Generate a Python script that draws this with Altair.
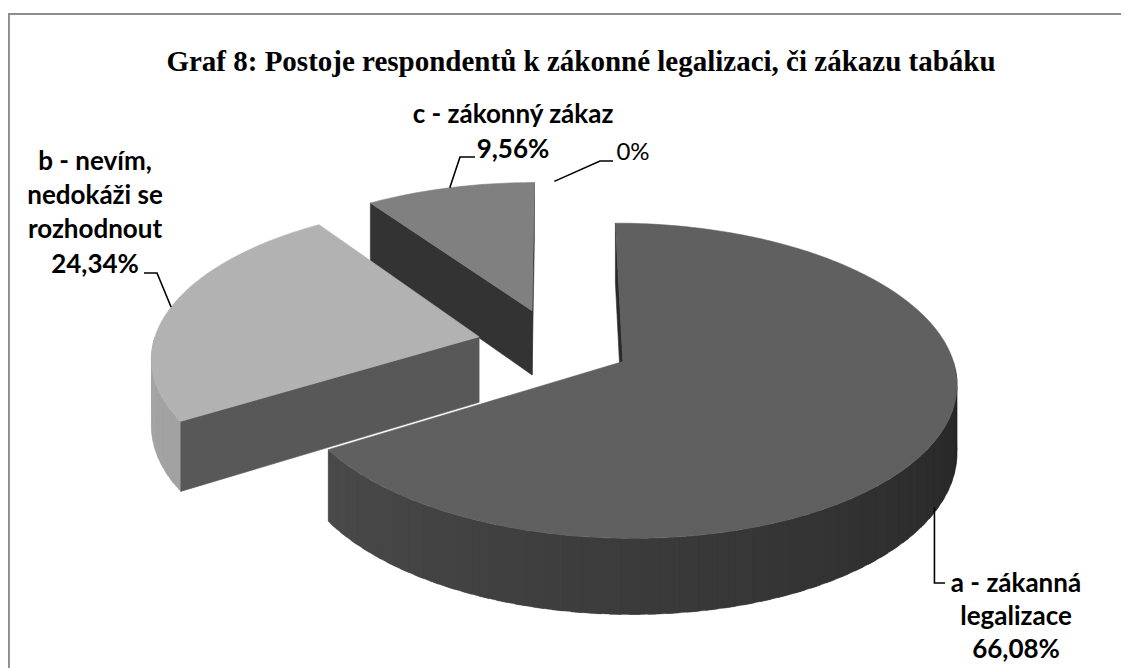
import math
import altair as alt
import pandas as pd

# ---------------- data ----------------
categories = ["a", "b", "c", "d"]
values = [66.08, 24.34, 9.56, 0.0]
name_lines = [
    ["a - zákanná", "legalizace"],
    ["b - nevím,", "nedokáži se", "rozhodnout"],
    ["c - zákonný zákaz"],
    [],
]
value_labels = ["66,08%", "24,34%", "9,56%", "0%"]
title_text = "Graf 8: Postoje respondentů k zákonné legalizaci, či zákazu tabáku"

# ---------------- style / layout ----------------
W, H = 1113, 660                 # drawing area (page px 8..1121, 8..668)
CX, CY = 554.3, 344.0            # projected pie centre (page px)
RX, RY = 326.0, 151.0            # radii of the projected ellipse
PERSP = 0.12                     # perspective strength
EXPLODE = 0.237                  # explosion distance (fraction of radius)
DEPTH = 66.0                     # wall height (px)

top_colors = ["#606060", "#b2b2b2", "#808080", "#808080"]
wall_colors = [("#242424", "#525252"), ("#8c8c8c", "#a6a6a6"),
               ("#333333", "#333333"), ("#333333", "#333333")]
cut_colors = ["#2a2a2a", "#585858", "#333333", "#333333"]

label_x = [1016, 95, 513, 633]
label_y = [[584, 617, 650], [162, 196, 230, 265], [115, 150], [153]]
label_bold = [True, True, True, False]
# leader knee points (label side); the slice end is computed from the data
leader_knees = [
    [("anchor_x", 583), (945, 583)],
    [(144, 273), (157, 273)],
    [(475, 157), (460, 157)],
    [(613, 161), (600, 161)],
]
# cropped chart border (left and top edges only), page px
frame_pts = [(8.9, 8 + H), (8.9, 14.0), (8 + W, 14.0)]

# ---------------- geometry from the data ----------------
total = sum(values)
starts, ends = [], []
acc = 0.0
for v in values:
    starts.append(360.0 * acc / total)
    acc += v
    ends.append(360.0 * acc / total)


def pt(i, theta, r=1.0, down=0.0):
    mid = math.radians((starts[i] + ends[i]) / 2.0)
    t = math.radians(theta)
    X = EXPLODE * math.sin(mid) + r * math.sin(t)
    Z = -EXPLODE * math.cos(mid) - r * math.cos(t)
    k = 1.0 / (1.0 - PERSP * Z)
    return (CX + RX * X * k, CY + RY * Z * k + DEPTH * k * down)


def lerp_hex(c0, c1, f):
    a = [int(c0[j:j + 2], 16) for j in (1, 3, 5)]
    b = [int(c1[j:j + 2], 16) for j in (1, 3, 5)]
    return "#" + "".join("%02x" % int(round(a[m] + (b[m] - a[m]) * f)) for m in range(3))


def arc(i, a0, a1, down=0.0, step=1.0):
    n = max(1, math.ceil(abs(a1 - a0) / step))
    return [pt(i, a0 + (a1 - a0) * j / n, 1.0, down) for j in range(n + 1)]


side_rows = {i: [] for i in range(len(values))}
strip_rows = {i: [] for i in range(len(values))}
top_rows = {i: [] for i in range(len(values))}


def add_poly(rows, name, pts, col):
    for j, (x, y) in enumerate(pts):
        rows.append({"poly": name, "idx": j, "x": x, "y": y, "col": col})


for i in range(len(values)):
    s, e = starts[i], ends[i]
    if e - s <= 0:
        continue
    # radial cut faces that face the viewer
    for face, ang, nz in (("s", s, -math.sin(math.radians(s))),
                          ("e", e, math.sin(math.radians(e)))):
        if nz >= -0.01:
            quad = [pt(i, ang, 0.0), pt(i, ang, 1.0), pt(i, ang, 1.0, 1.0), pt(i, ang, 0.0, 1.0)]
            add_poly(side_rows[i], f"cut{i}{face}", quad, cut_colors[i])
    # outer wall (front half only): overlapping shaded strips
    lo, hi = max(s, 90.0), min(e, 270.0)
    if hi > lo:
        n = max(1, math.ceil((hi - lo) / 3.0))
        step = (hi - lo) / n
        for j in range(n):
            t0 = lo + step * j
            t1 = min(hi, t0 + step * 1.6)
            quad = arc(i, t0, t1, 0.0, 0.5) + arc(i, t1, t0, 1.0, 0.5)
            f = (t0 + step / 2.0 - 90.0) / 180.0
            add_poly(strip_rows[i], f"w{i}_{j:03d}", quad, lerp_hex(*wall_colors[i], f))
    # top face
    add_poly(top_rows[i], f"top{i}", [pt(i, s, 0.0)] + arc(i, s, e), top_colors[i])

xs = alt.Scale(domain=[8, 8 + W], nice=False, zero=False)
ys = alt.Scale(domain=[8, 8 + H], nice=False, zero=False, reverse=True)


def poly_layer(rows, sw):
    df = pd.DataFrame(rows)
    return alt.Chart(df).mark_line(
        interpolate="linear-closed", filled=True, strokeWidth=sw, strokeJoin="round", opacity=1
    ).encode(
        x=alt.X("x:Q", scale=xs, axis=None),
        y=alt.Y("y:Q", scale=ys, axis=None),
        detail="poly:N",
        order="idx:Q",
        fill=alt.Fill("col:N", scale=None),
        stroke=alt.Stroke("col:N", scale=None),
    )


layers = []
for i in [2, 1, 0]:            # back to front
    if strip_rows[i]:
        layers.append(poly_layer(strip_rows[i], 0.3))
    if side_rows[i]:
        layers.append(poly_layer(side_rows[i], 0.6))
    if top_rows[i]:
        layers.append(poly_layer(top_rows[i], 0.6))

# leader lines
lead_rows = []
for i in range(len(values)):
    mid = (starts[i] + ends[i]) / 2.0
    anchor = pt(i, mid, 1.0, 0.93) if i == 0 else pt(i, mid, 1.0)
    pts = [(anchor[0] if kx == "anchor_x" else kx, ky) for (kx, ky) in leader_knees[i]]
    pts = [anchor] + pts if i == 0 else pts + [anchor]
    for j, (x, y) in enumerate(pts):
        lead_rows.append({"lead": i, "idx": j, "x": x, "y": y})

layers.append(
    alt.Chart(pd.DataFrame(lead_rows)).mark_line(color="black", strokeWidth=1.6).encode(
        x=alt.X("x:Q", scale=xs, axis=None),
        y=alt.Y("y:Q", scale=ys, axis=None),
        detail="lead:N",
        order="idx:Q",
    )
)

# labels
text_rows = []
for i in range(len(values)):
    lines = name_lines[i] + [value_labels[i]]
    for line, yy in zip(lines, label_y[i]):
        text_rows.append({"t": line, "x": label_x[i], "y": yy, "bold": label_bold[i]})
tdf = pd.DataFrame(text_rows)

layers.append(
    alt.Chart(tdf[tdf["bold"]]).mark_text(
        font="Lato", fontSize=26, fontWeight="bold", align="center", baseline="middle", color="black"
    ).encode(x=alt.X("x:Q", scale=xs, axis=None), y=alt.Y("y:Q", scale=ys, axis=None), text="t:N")
)
layers.append(
    alt.Chart(tdf[~tdf["bold"]]).mark_text(
        font="Lato", fontSize=24, align="center", baseline="middle", color="black"
    ).encode(x=alt.X("x:Q", scale=xs, axis=None), y=alt.Y("y:Q", scale=ys, axis=None), text="t:N")
)

# title
layers.append(
    alt.Chart(pd.DataFrame({"t": [title_text], "x": [581], "y": [62]})).mark_text(
        font="Liberation Serif", fontSize=29, fontWeight="bold", align="center", baseline="middle",
        color="black"
    ).encode(x=alt.X("x:Q", scale=xs, axis=None), y=alt.Y("y:Q", scale=ys, axis=None), text="t:N")
)

# frame as one open polyline
frame_df = pd.DataFrame({"idx": list(range(len(frame_pts))),
                         "x": [p[0] for p in frame_pts], "y": [p[1] for p in frame_pts]})
layers.append(alt.Chart(frame_df).mark_line(color="#8c8c8c", strokeWidth=2).encode(
    x=alt.X("x:Q", scale=xs, axis=None), y=alt.Y("y:Q", scale=ys, axis=None), order="idx:Q"))

chart = alt.layer(*layers).properties(
    width=W, height=H, autosize="none", padding=0, background="white"
).configure_view(strokeWidth=0, stroke="transparent")

chart.save("out.html", embed_options={"renderer": "svg", "actions": False})
